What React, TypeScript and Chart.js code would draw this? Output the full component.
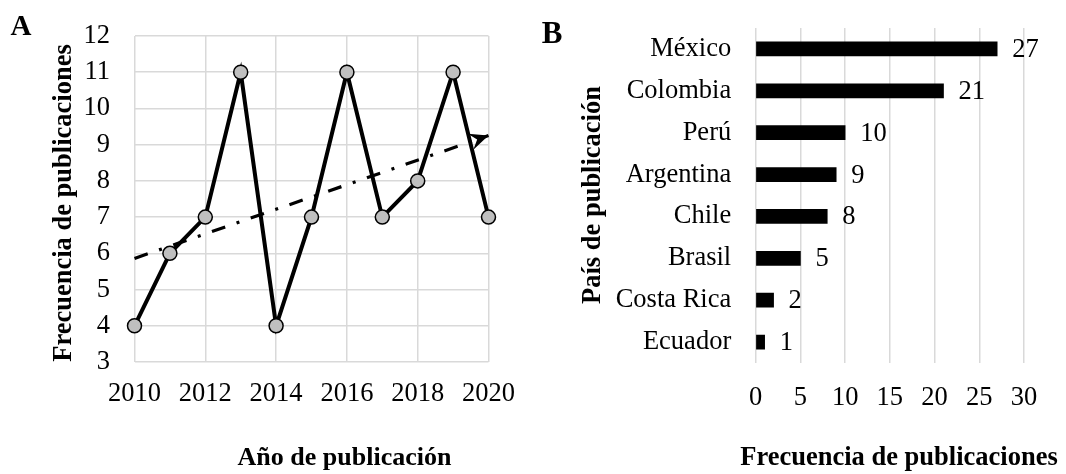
import React, { useEffect, useRef } from "react";
import { Chart, registerables } from "chart.js";

Chart.register(...registerables);

// ---- Panel A data ----
const years = [2010, 2011, 2012, 2013, 2014, 2015, 2016, 2017, 2018, 2019, 2020];
const publicationsPerYear = [4, 6, 7, 11, 4, 7, 11, 7, 8, 11, 7];
const trendYears = [2010, 2020];
const trendValues = [5.86, 9.25];

// ---- Panel B data ----
const countries = ["México", "Colombia", "Perú", "Argentina", "Chile", "Brasil", "Costa Rica", "Ecuador"];
const countryCounts = [27, 21, 10, 9, 8, 5, 2, 1];

const SERIF = '"Liberation Serif", "Times New Roman", serif';
const GRID = "#d9d9d9";
const FS = 26.5;

const W = 533;
const H = 474;

const titlesA = {
  id: "titlesA",
  afterDraw(chart: any) {
    const ctx = chart.ctx;
    ctx.save();
    ctx.fillStyle = "#000";
    ctx.textAlign = "center";
    ctx.textBaseline = "middle";
    ctx.font = `bold 26px ${SERIF}`;
    ctx.fillText("Año de publicación", 344.5, 458);
    ctx.font = `bold 29px ${SERIF}`;
    ctx.fillText("A", 21, 28);
    ctx.translate(64, 203);
    ctx.rotate(-Math.PI / 2);
    ctx.font = `bold 26.5px ${SERIF}`;
    ctx.fillText("Frecuencia de publicaciones", 0, 0);
    ctx.restore();
  },
};

const arrowA = {
  id: "arrowA",
  afterDatasetsDraw(chart: any) {
    const meta = chart.getDatasetMeta(1);
    if (!meta || meta.data.length < 2) return;
    const p0 = meta.data[meta.data.length - 2];
    const p1 = meta.data[meta.data.length - 1];
    const ang = Math.atan2(p1.y - p0.y, p1.x - p0.x);
    const ctx = chart.ctx;
    const len = 19;
    const half = 8.5;
    const notch = 12;
    ctx.save();
    ctx.translate(p1.x, p1.y);
    ctx.rotate(ang);
    ctx.fillStyle = "#000";
    ctx.beginPath();
    ctx.moveTo(0, 0);
    ctx.lineTo(-len, -half);
    ctx.lineTo(-notch, 0);
    ctx.lineTo(-len, half);
    ctx.closePath();
    ctx.fill();
    ctx.restore();
  },
};

const titlesB = {
  id: "titlesB",
  afterDraw(chart: any) {
    const ctx = chart.ctx;
    ctx.save();
    ctx.fillStyle = "#000";
    ctx.textAlign = "center";
    ctx.textBaseline = "middle";
    ctx.font = `bold 26.5px ${SERIF}`;
    ctx.fillText("Frecuencia de publicaciones", 366, 458);
    ctx.font = `bold 31px ${SERIF}`;
    ctx.fillText("B", 19, 35);
    ctx.translate(60, 195);
    ctx.rotate(-Math.PI / 2);
    ctx.font = `bold 26.5px ${SERIF}`;
    ctx.fillText("País de publicación", 0, 0);
    ctx.restore();
  },
};

const barLabelsB = {
  id: "barLabelsB",
  afterDatasetsDraw(chart: any) {
    const meta = chart.getDatasetMeta(0);
    const ds = chart.data.datasets[0];
    const ctx = chart.ctx;
    ctx.save();
    ctx.fillStyle = "#000";
    ctx.font = `${FS}px ${SERIF}`;
    ctx.textAlign = "left";
    ctx.textBaseline = "middle";
    meta.data.forEach((bar: any, i: number) => {
      ctx.fillText(String(ds.data[i]), bar.x + 15, bar.y + 1);
    });
    ctx.restore();
  },
};

const noPad = (s: any) => {
  s.paddingTop = 0;
  s.paddingBottom = 0;
  s.paddingLeft = 0;
  s.paddingRight = 0;
};

function PanelA() {
  const ref = useRef<HTMLCanvasElement>(null);
  useEffect(() => {
    const chart = new Chart(ref.current!, {
      type: "line",
      data: {
        datasets: [
          {
            data: years.map((y, i) => ({ x: y, y: publicationsPerYear[i] })),
            borderColor: "#000",
            borderWidth: 4,
            pointRadius: 7,
            pointBackgroundColor: "#bfbfbf",
            pointBorderColor: "#000",
            pointBorderWidth: 1.5,
            tension: 0,
            clip: false,
          },
          {
            data: trendYears.map((y, i) => ({ x: y, y: trendValues[i] })),
            borderColor: "#000",
            borderWidth: 3.2,
            borderDash: [14, 12, 3, 12],
            pointRadius: 0,
            tension: 0,
            clip: false,
          },
        ],
      },
      options: {
        responsive: false,
        animation: false,
        devicePixelRatio: 1,
        layout: { padding: { left: 0, right: 44.5, top: 36, bottom: 0 } },
        plugins: { legend: { display: false }, tooltip: { enabled: false } },
        scales: {
          x: {
            type: "linear",
            min: 2010,
            max: 2020,
            ticks: {
              stepSize: 2,
              callback: (v: any) => String(v),
              color: "#000",
              font: { family: SERIF, size: FS },
              padding: 16,
              maxRotation: 0,
            },
            grid: { color: GRID, lineWidth: 1.5, drawTicks: false },
            border: { display: false },
            afterFit: (s: any) => {
              noPad(s);
              s.height = 112;
            },
          },
          y: {
            min: 3,
            max: 12,
            ticks: {
              stepSize: 1,
              color: "#000",
              font: { family: SERIF, size: FS },
              padding: 24.5,
            },
            grid: { color: GRID, lineWidth: 1.5, drawTicks: false },
            border: { display: false },
            afterFit: (s: any) => {
              noPad(s);
              s.width = 134.5;
            },
          },
        },
      },
      plugins: [arrowA, titlesA],
    } as any);
    return () => chart.destroy();
  }, []);
  return (
    <canvas
      ref={ref}
      width={W}
      height={H}
      style={{ position: "absolute", left: 0, top: 0, width: W, height: H, display: "block" }}
    />
  );
}

function PanelB() {
  const ref = useRef<HTMLCanvasElement>(null);
  useEffect(() => {
    const chart = new Chart(ref.current!, {
      type: "bar",
      data: {
        labels: countries,
        datasets: [
          {
            data: countryCounts,
            backgroundColor: "#000",
            borderWidth: 0,
            barThickness: 14,
          },
        ],
      },
      options: {
        indexAxis: "y",
        responsive: false,
        animation: false,
        devicePixelRatio: 1,
        layout: { padding: { left: 0, right: 42, top: 28, bottom: 0 } },
        plugins: { legend: { display: false }, tooltip: { enabled: false } },
        scales: {
          x: {
            min: 0,
            max: 30,
            ticks: {
              stepSize: 5,
              color: "#000",
              font: { family: SERIF, size: FS },
              padding: 19,
              maxRotation: 0,
            },
            grid: { color: GRID, lineWidth: 1.5, drawTicks: false },
            border: { display: false },
            afterFit: (s: any) => {
              noPad(s);
              s.height = 111;
            },
          },
          y: {
            ticks: {
              color: "#000",
              font: { family: SERIF, size: FS },
              padding: 24.5,
            },
            grid: { display: false, drawTicks: false },
            border: { display: false },
            afterFit: (s: any) => {
              noPad(s);
              s.width = 222.7;
            },
          },
        },
      },
      plugins: [barLabelsB, titlesB],
    } as any);
    return () => chart.destroy();
  }, []);
  return (
    <canvas
      ref={ref}
      width={W}
      height={H}
      style={{ position: "absolute", left: W, top: 0, width: W, height: H, display: "block" }}
    />
  );
}

export default function App() {
  return (
    <div style={{ position: "absolute", left: 0, top: 0, width: 1066, height: 474, background: "#fff" }}>
      <PanelA />
      <PanelB />
    </div>
  );
}
